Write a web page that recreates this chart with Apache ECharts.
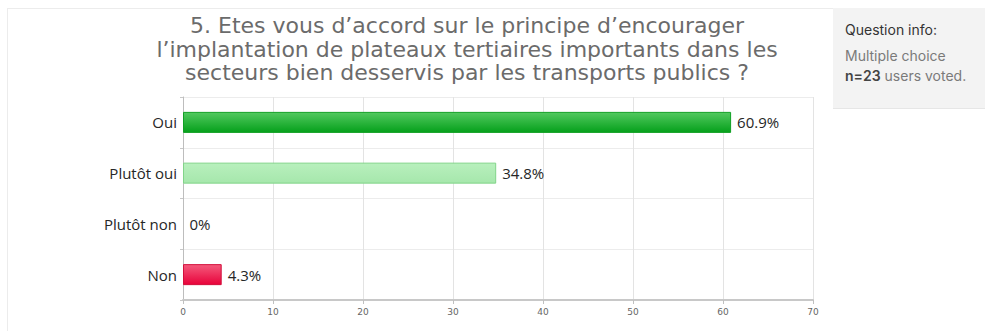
<!DOCTYPE html>
<html>
<head>
<meta charset="utf-8">
<script src="https://cdn.jsdelivr.net/npm/echarts@6/dist/echarts.min.js"></script>
<style>
  html, body { margin: 0; padding: 0; background: #ffffff; }
  #chart { width: 985px; height: 331px; }
</style>
</head>
<body>
<div id="chart"></div>
<script>
// Survey answers and their share of votes (%)
const categories = ['Oui', 'Plutôt oui', 'Plutôt non', 'Non'];
const shares = [60.9, 34.8, 0, 4.3];
const axisTicks = [0, 10, 20, 30, 40, 50, 60, 70];

const titleLines = [
  '5. Etes vous d\u2019accord sur le principe d\u2019encourager',
  'l\u2019implantation de plateaux tertiaires importants dans les',
  'secteurs bien desservis par les transports publics ?'
];
const infoHeading = 'Question info:';
const infoType = 'Multiple choice';
const voters = 23;

// Bar fills per answer (top -> bottom gradient, border)
const barStyles = [
  { top: '#52c95f', bottom: '#05a01b', border: '#10a024' },
  { top: '#b8f0bd', bottom: '#a6e7ac', border: '#82d489' },
  { top: '#f0c0c0', bottom: '#e0a0a0', border: 'rgba(0,0,0,0)' },
  { top: '#f45a7c', bottom: '#e8023a', border: '#d30f3c' }
];

function grad(s) {
  return {
    type: 'linear', x: 0, y: 0, x2: 0, y2: 1,
    colorStops: [
      { offset: 0, color: s.top },
      { offset: 1, color: s.bottom }
    ]
  };
}

const chart = echarts.init(document.getElementById('chart'), null, { renderer: 'svg' });

const panelFont = 'Inter';

chart.setOption({
  animation: false,
  backgroundColor: '#ffffff',
  title: {
    text: titleLines.join('\n'),
    left: 462,
    top: 9,
    textAlign: 'center',
    textStyle: {
      fontFamily: 'DejaVu Sans',
      fontWeight: 400,
      fontSize: 22,
      lineHeight: 23.5,
      color: '#6b6b6b'
    }
  },
  graphic: [
    { type: 'line', shape: { x1: 7.5, y1: 8, x2: 7.5, y2: 331 }, style: { stroke: '#ececec', lineWidth: 1 }, silent: true },
    { type: 'line', shape: { x1: 7, y1: 8.5, x2: 833, y2: 8.5 }, style: { stroke: '#ececec', lineWidth: 1 }, silent: true },
    { type: 'rect', shape: { x: 833, y: 8, width: 152, height: 100 }, style: { fill: '#f3f3f3' }, silent: true },
    { type: 'line', shape: { x1: 833, y1: 108.5, x2: 985, y2: 108.5 }, style: { stroke: '#e6e6e6', lineWidth: 1 }, silent: true },
    {
      type: 'text', x: 845, y: 22, silent: true,
      style: { text: infoHeading, fontFamily: panelFont, fontSize: 14, fill: '#333333' }
    },
    {
      type: 'text', x: 845, y: 48, silent: true,
      style: { text: infoType, fontFamily: panelFont, fontSize: 14, fill: '#7a7a7a' }
    },
    {
      type: 'text', x: 845, y: 68, silent: true,
      style: {
        text: '{b|n=' + voters + '} {n|users voted.}',
        fontFamily: panelFont, fontSize: 14,
        rich: {
          b: { fontFamily: panelFont, fontSize: 14, fontWeight: 600, fill: '#444444', color: '#444444' },
          n: { fontFamily: panelFont, fontSize: 14, fill: '#7a7a7a', color: '#7a7a7a' }
        }
      }
    }
  ],
  grid: { left: 183, right: 172, top: 97, bottom: 31, containLabel: false },
  xAxis: {
    type: 'value',
    min: axisTicks[0],
    max: axisTicks[axisTicks.length - 1],
    interval: axisTicks[1] - axisTicks[0],
    axisLine: { show: true, lineStyle: { color: '#c8c8c8', width: 2 } },
    axisTick: { show: true, length: 4, lineStyle: { color: '#c0c0c0' } },
    axisLabel: { fontFamily: 'DejaVu Sans', fontSize: 9, color: '#666666', margin: 7 },
    splitLine: { show: true, lineStyle: { color: '#e3e3e3', width: 1 } }
  },
  yAxis: {
    type: 'category',
    data: categories,
    inverse: true,
    axisLine: { show: true, lineStyle: { color: '#bdbdbd', width: 1 } },
    axisTick: { show: true, length: 3, alignWithLabel: false, lineStyle: { color: '#c8c8c8' } },
    axisLabel: { fontFamily: 'Open Sans', fontSize: 15, color: '#262626', margin: 6 },
    splitLine: { show: true, lineStyle: { color: '#ececec', width: 1 } }
  },
  series: [{
    type: 'bar',
    barWidth: 21,
    data: shares.map((v, i) => ({
      value: v,
      itemStyle: {
        color: grad(barStyles[i]),
        borderColor: barStyles[i].border,
        borderWidth: 1
      }
    })),
    label: {
      show: true,
      position: 'right',
      distance: 6,
      formatter: p => p.value + '%',
      fontFamily: 'Open Sans',
      fontSize: 15,
      color: '#262626'
    }
  }]
});
</script>
</body>
</html>
